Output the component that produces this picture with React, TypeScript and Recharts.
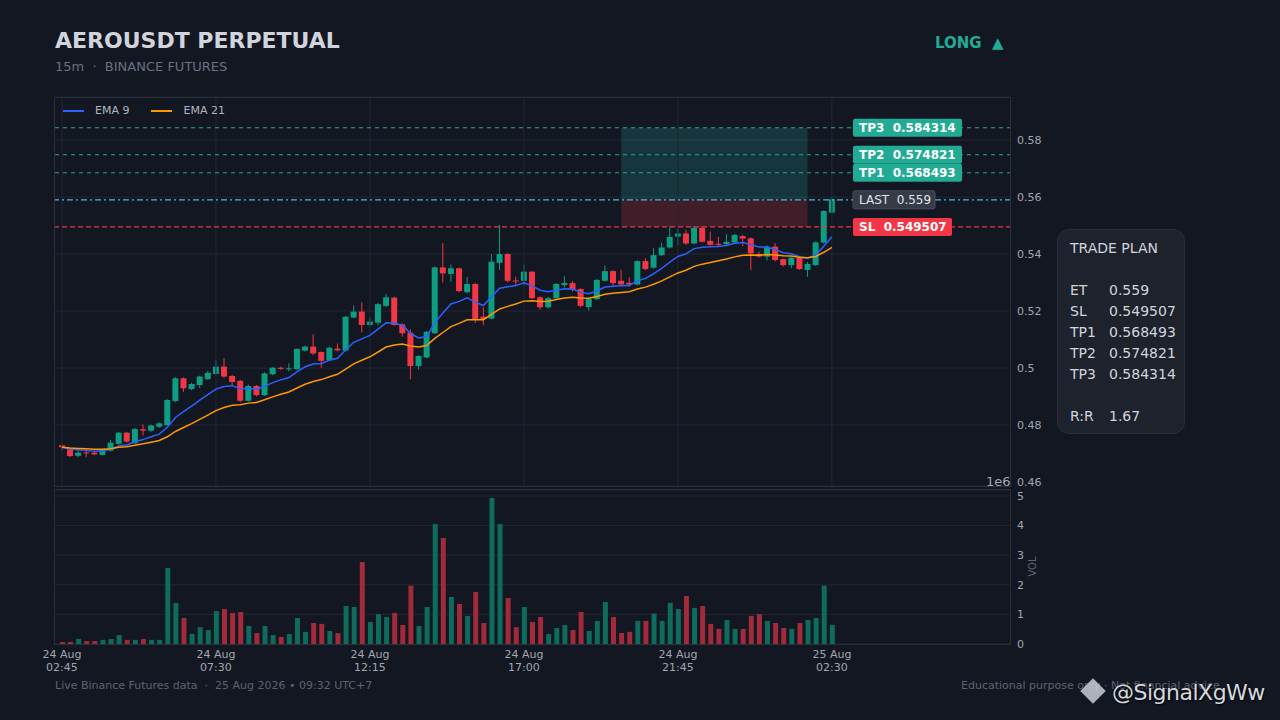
import React from 'react';
import {
  ComposedChart, Bar, Line, XAxis, YAxis, CartesianGrid, ReferenceLine, ReferenceArea, Cell,
} from 'recharts';

// 15m candles, AEROUSDT perp
const opens = [
  0.4729, 0.4715, 0.4692, 0.4704, 0.4703, 0.4695, 0.4710, 0.4734, 0.4773, 0.4736,
  0.4785, 0.4780, 0.4794, 0.4800, 0.4884, 0.4964, 0.4926, 0.4940, 0.4961, 0.4979,
  0.5005, 0.4972, 0.4955, 0.4885, 0.4937, 0.4905, 0.4978, 0.5001, 0.4997, 0.4996,
  0.5061, 0.5075, 0.5056, 0.5028, 0.5068, 0.5061, 0.5177, 0.5198, 0.5151, 0.5159,
  0.5218, 0.5247, 0.5153, 0.5124, 0.5007, 0.5037, 0.5122, 0.5353, 0.5330, 0.5350,
  0.5266, 0.5295, 0.5180, 0.5173, 0.5369, 0.5400, 0.5307, 0.5306, 0.5338, 0.5248,
  0.5213, 0.5245, 0.5291, 0.5298, 0.5277, 0.5214, 0.5242, 0.5306, 0.5340, 0.5306,
  0.5299, 0.5293, 0.5375, 0.5352, 0.5396, 0.5423, 0.5461, 0.5472, 0.5437, 0.5492,
  0.5446, 0.5436, 0.5435, 0.5441, 0.5463, 0.5455, 0.5400, 0.5391, 0.5426, 0.5382,
  0.5361, 0.5387, 0.5344, 0.5361, 0.5440, 0.5545,
];
const closes = [
  0.4722, 0.4691, 0.4703, 0.4702, 0.4697, 0.4715, 0.4738, 0.4773, 0.4742, 0.4786,
  0.4780, 0.4798, 0.4806, 0.4888, 0.4964, 0.4929, 0.4944, 0.4970, 0.4983, 0.5005,
  0.4970, 0.4951, 0.4885, 0.4937, 0.4905, 0.4981, 0.5001, 0.4997, 0.4999, 0.5067,
  0.5075, 0.5051, 0.5025, 0.5071, 0.5062, 0.5180, 0.5198, 0.5151, 0.5163, 0.5224,
  0.5248, 0.5151, 0.5122, 0.5007, 0.5042, 0.5127, 0.5353, 0.5332, 0.5350, 0.5270,
  0.5295, 0.5172, 0.5172, 0.5373, 0.5400, 0.5306, 0.5305, 0.5338, 0.5245, 0.5213,
  0.5245, 0.5295, 0.5298, 0.5274, 0.5218, 0.5242, 0.5309, 0.5340, 0.5298, 0.5293,
  0.5293, 0.5375, 0.5347, 0.5396, 0.5423, 0.5460, 0.5472, 0.5437, 0.5492, 0.5443,
  0.5432, 0.5432, 0.5443, 0.5467, 0.5454, 0.5402, 0.5391, 0.5426, 0.5379, 0.5361,
  0.5387, 0.5347, 0.5365, 0.5441, 0.5551, 0.5592,
];
const highs = [
  0.4731, 0.4718, 0.4712, 0.4715, 0.4706, 0.4717, 0.4748, 0.4776, 0.4776, 0.4789,
  0.4802, 0.4802, 0.4810, 0.4890, 0.4968, 0.4967, 0.4948, 0.4973, 0.4990, 0.5028,
  0.5035, 0.4976, 0.4958, 0.4942, 0.4940, 0.4985, 0.5003, 0.5005, 0.5016, 0.5068,
  0.5079, 0.5119, 0.5058, 0.5074, 0.5086, 0.5182, 0.5219, 0.5230, 0.5176, 0.5228,
  0.5260, 0.5250, 0.5157, 0.5136, 0.5045, 0.5130, 0.5356, 0.5438, 0.5363, 0.5352,
  0.5320, 0.5298, 0.5213, 0.5399, 0.5502, 0.5403, 0.5320, 0.5362, 0.5340, 0.5251,
  0.5249, 0.5298, 0.5322, 0.5305, 0.5280, 0.5246, 0.5312, 0.5360, 0.5343, 0.5345,
  0.5318, 0.5378, 0.5385, 0.5420, 0.5440, 0.5497, 0.5490, 0.5485, 0.5498, 0.5499,
  0.5478, 0.5460, 0.5470, 0.5470, 0.5468, 0.5458, 0.5408, 0.5430, 0.5438, 0.5384,
  0.5390, 0.5390, 0.5372, 0.5444, 0.5553, 0.5600,
];
const lows = [
  0.4710, 0.4688, 0.4687, 0.4687, 0.4694, 0.4693, 0.4707, 0.4731, 0.4738, 0.4734,
  0.4763, 0.4776, 0.4790, 0.4797, 0.4880, 0.4915, 0.4922, 0.4930, 0.4958, 0.4975,
  0.4965, 0.4940, 0.4880, 0.4882, 0.4900, 0.4902, 0.4975, 0.4993, 0.4989, 0.4993,
  0.5058, 0.5045, 0.5001, 0.5025, 0.5058, 0.5058, 0.5174, 0.5125, 0.5148, 0.5150,
  0.5214, 0.5148, 0.5110, 0.4960, 0.4995, 0.5034, 0.5119, 0.5300, 0.5303, 0.5266,
  0.5262, 0.5158, 0.5150, 0.5170, 0.5344, 0.5300, 0.5290, 0.5290, 0.5242, 0.5205,
  0.5208, 0.5242, 0.5283, 0.5268, 0.5213, 0.5202, 0.5238, 0.5303, 0.5290, 0.5288,
  0.5286, 0.5290, 0.5343, 0.5348, 0.5393, 0.5420, 0.5430, 0.5432, 0.5434, 0.5440,
  0.5430, 0.5428, 0.5428, 0.5438, 0.5428, 0.5344, 0.5387, 0.5378, 0.5374, 0.5356,
  0.5350, 0.5344, 0.5320, 0.5358, 0.5437, 0.5542,
];
// volume in millions
const volumes = [
  0.07, 0.07, 0.17, 0.10, 0.10, 0.14, 0.17, 0.30, 0.14, 0.14,
  0.17, 0.14, 0.14, 2.57, 1.39, 0.88, 0.34, 0.57, 0.47, 1.11,
  1.18, 1.05, 1.08, 0.61, 0.37, 0.61, 0.30, 0.24, 0.34, 0.88,
  0.41, 0.71, 0.68, 0.44, 0.37, 1.28, 1.25, 2.77, 0.74, 1.01,
  0.91, 1.05, 0.64, 1.97, 0.61, 1.25, 4.05, 3.58, 1.59, 1.35,
  0.95, 1.76, 0.71, 4.93, 4.05, 1.55, 0.57, 1.25, 0.74, 0.91,
  0.34, 0.54, 0.64, 0.47, 1.08, 0.44, 0.78, 1.42, 0.91, 0.37,
  0.41, 0.78, 0.78, 1.03, 0.78, 1.39, 1.18, 1.62, 1.22, 1.28,
  0.68, 0.51, 0.81, 0.51, 0.51, 0.95, 1.01, 0.78, 0.71, 0.54,
  0.51, 0.71, 0.81, 0.88, 1.97, 0.64,
];

const tickIdx = [0, 19, 38, 57, 76, 95];
const tickDates = ['24 Aug', '24 Aug', '24 Aug', '24 Aug', '24 Aug', '25 Aug'];
const tickTimes = ['02:45', '07:30', '12:15', '17:00', '21:45', '02:30'];
const priceTicks = [0.46, 0.48, 0.5, 0.52, 0.54, 0.56, 0.58];
const volTicks = [0, 1, 2, 3, 4, 5];

const levelNames = ['TP3', 'TP2', 'TP1', 'LAST', 'SL'];
const levelValues = [0.584314, 0.574821, 0.568493, 0.559, 0.549507];
const levelText = ['0.584314', '0.574821', '0.568493', '0.559', '0.549507'];
const zoneStart = 69;
const zoneEnd = 92;

const BG = '#131722';
const GRID = '#232733';
const FRAME = '#2a2e39';
const AXIS_TXT = '#a3a6af';
const UP = '#0d9d82';
const DOWN = '#f23645';
const UP_VOL = '#0f6b5c';
const DOWN_VOL = '#a12b3b';
const TEAL = '#22ab94';

function ema(src: number[], n: number) {
  const k = 2 / (n + 1);
  const out: number[] = [];
  src.forEach((v, i) => out.push(i === 0 ? v : v * k + out[i - 1] * (1 - k)));
  return out;
}

const ema9 = ema(closes, 9);
const ema21 = ema(closes, 21);

const rows = opens.map((o, i) => ({
  i, o, c: closes[i], h: highs[i], l: lows[i], v: volumes[i], ema9: ema9[i], ema21: ema21[i],
}));

const X_DOMAIN: [number, number] = [-0.86, 117.1];

const Candle = (props: any) => {
  const { x, y, width, height, payload } = props;
  if (!payload) return null;
  const { o, c, h, l } = payload;
  const color = c >= o ? UP : DOWN;
  const cx = x + width / 2;
  const range = h - l || 1e-9;
  const py = (v: number) => y + ((h - v) / range) * height;
  const top = py(Math.max(o, c));
  const bot = py(Math.min(o, c));
  return (
    <g>
      <line x1={cx} x2={cx} y1={y} y2={y + height} stroke={color} strokeWidth={1} />
      <rect x={x} y={top} width={width} height={Math.max(1, bot - top)} fill={color} />
    </g>
  );
};

const LevelTag = (props: any) => {
  const { viewBox, text, bg, bold, w, color } = props;
  if (!viewBox) return null;
  const x = viewBox.x + 798;
  const y = viewBox.y;
  return (
    <g>
      <rect x={x} y={y - 9} width={w} height={18} rx={2} fill={bg} stroke={bold ? 'none' : '#4a5060'} />
      <text x={x + 6} y={y + 4.5} fill={color} fontSize={12} fontWeight={bold ? 'bold' : 'normal'}
        style={{ whiteSpace: 'pre' }}>
        {text}
      </text>
    </g>
  );
};

const TimeTick = (props: any) => {
  const { x, y, payload } = props;
  const k = tickIdx.indexOf(payload.value);
  return (
    <text x={x} y={y} textAnchor="middle" fill={AXIS_TXT} fontSize={11}>
      <tspan x={x} dy={6}>{tickDates[k]}</tspan>
      <tspan x={x} dy={13}>{tickTimes[k]}</tspan>
    </text>
  );
};

const frame = (top: number, height: number): React.CSSProperties => ({
  position: 'absolute', left: 54, top, width: 957, height, border: `1px solid ${FRAME}`,
  boxSizing: 'border-box', pointerEvents: 'none',
});

const planLabels = ['ET', 'SL', 'TP1', 'TP2', 'TP3'];
const planValues = ['0.559', '0.549507', '0.568493', '0.574821', '0.584314'];

export default function App() {
  const tagStyle = (k: number) => {
    if (levelNames[k] === 'SL') return { bg: DOWN, bold: true, w: 99, color: '#fff' };
    if (levelNames[k] === 'LAST') return { bg: '#363b48', bold: false, w: 82, color: '#e0e3eb' };
    return { bg: TEAL, bold: true, w: 109, color: '#fff' };
  };
  const lineStyle = (k: number) => {
    if (levelNames[k] === 'SL') return { stroke: DOWN, dash: '5 3' };
    if (levelNames[k] === 'LAST') return { stroke: '#4fb8e6', dash: '6 3 2 3' };
    return { stroke: TEAL, dash: '4 4' };
  };

  return (
    <div style={{
      position: 'absolute', left: 0, top: 0, width: 1280, height: 720, background: BG,
      fontFamily: '"DejaVu Sans", sans-serif', overflow: 'hidden',
    }}>
      <div style={{ position: 'absolute', left: 55, top: 28, fontSize: 22, fontWeight: 'bold', color: '#d1d4dc' }}>
        AEROUSDT PERPETUAL
      </div>
      <div style={{ position: 'absolute', left: 55, top: 59, fontSize: 13, color: '#6b7080', whiteSpace: 'pre' }}>
        15m  ·  BINANCE FUTURES
      </div>
      <div style={{
        position: 'absolute', left: 935, top: 34, fontSize: 15, fontWeight: 'bold', color: TEAL, whiteSpace: 'pre',
      }}>
        LONG  ▲
      </div>

      {/* price panel */}
      <div style={{ position: 'absolute', left: 0, top: 0 }}>
        <ComposedChart width={1280} height={490} data={rows} margin={{ top: 97, right: 229, bottom: 4, left: 55 }}>
          <CartesianGrid vertical={false} stroke={GRID} />
          <XAxis dataKey="i" type="number" domain={X_DOMAIN} hide allowDataOverflow />
          <YAxis orientation="right" width={40} domain={[0.4586, 0.59509]} ticks={priceTicks}
            allowDataOverflow axisLine={false} tickLine={false} tickMargin={0}
            tick={{ fill: AXIS_TXT, fontSize: 11 }} tickFormatter={(v: number) => String(+v.toFixed(2))} />
          {tickIdx.map((t) => (
            <ReferenceLine key={'v' + t} x={t} stroke={GRID} />
          ))}
          <ReferenceArea x1={zoneStart} x2={zoneEnd} y1={levelValues[3]} y2={levelValues[0]}
            fill="#26a69a" fillOpacity={0.22} stroke="none" />
          <ReferenceArea x1={zoneStart} x2={zoneEnd} y1={levelValues[4]} y2={levelValues[3]}
            fill={DOWN} fillOpacity={0.2} stroke="none" />
          <Bar dataKey={(d: any) => [d.l, d.h]} barSize={6} shape={<Candle />} isAnimationActive={false} />
          <Line dataKey="ema9" stroke="#2962ff" strokeWidth={1.5} dot={false} isAnimationActive={false} />
          <Line dataKey="ema21" stroke="#ff9800" strokeWidth={1.5} dot={false} isAnimationActive={false} />
          {levelValues.map((v, k) => {
            const ls = lineStyle(k);
            const ts = tagStyle(k);
            return (
              <ReferenceLine key={levelNames[k]} y={v} stroke={ls.stroke} strokeDasharray={ls.dash} strokeWidth={1.1}
                label={<LevelTag text={`${levelNames[k]}  ${levelText[k]}`} {...ts} />} />
            );
          })}
        </ComposedChart>
      </div>

      {/* EMA legend */}
      <div style={{
        position: 'absolute', left: 63, top: 104, display: 'flex', alignItems: 'center',
        fontSize: 11, color: '#b2b5be',
      }}>
        <span style={{ width: 21, height: 2, background: '#2962ff', display: 'inline-block', marginRight: 11 }} />
        <span style={{ marginRight: 22 }}>EMA 9</span>
        <span style={{ width: 21, height: 2, background: '#ff9800', display: 'inline-block', marginRight: 11 }} />
        <span>EMA 21</span>
      </div>

      {/* volume panel */}
      <div style={{ position: 'absolute', left: 0, top: 490 }}>
        <ComposedChart width={1280} height={190} data={rows} margin={{ top: 0, right: 229, bottom: 6, left: 55 }}>
          <CartesianGrid vertical={false} stroke={GRID} />
          <XAxis dataKey="i" type="number" domain={X_DOMAIN} ticks={tickIdx} height={30}
            axisLine={false} tickLine={false} tick={<TimeTick />} allowDataOverflow interval={0} />
          <YAxis orientation="right" width={40} domain={[0, 5.2]} ticks={volTicks} allowDataOverflow
            axisLine={false} tickLine={false} tickMargin={0} tick={{ fill: AXIS_TXT, fontSize: 11 }} />
          <Bar dataKey="v" barSize={5} isAnimationActive={false}>
            {rows.map((r) => (
              <Cell key={r.i} fill={r.c >= r.o ? UP_VOL : DOWN_VOL} />
            ))}
          </Bar>
        </ComposedChart>
      </div>

      <div style={frame(97, 390)} />
      <div style={frame(489, 156)} />

      <div style={{ position: 'absolute', left: 986, top: 474, fontSize: 13, color: AXIS_TXT }}>1e6</div>
      <div style={{
        position: 'absolute', left: 1022, top: 561, fontSize: 10, color: '#5d6270', transform: 'rotate(-90deg)',
      }}>VOL</div>

      {/* trade plan */}
      <div style={{
        position: 'absolute', left: 1057, top: 229, width: 128, height: 205, boxSizing: 'border-box',
        background: '#1e222d', border: `1px solid ${FRAME}`, borderRadius: 12, padding: '8px 0 0 12px',
        fontSize: 14, lineHeight: '21px', color: '#d1d4dc',
      }}>
        <div>TRADE PLAN</div>
        <div>&nbsp;</div>
        {planLabels.map((lab, k) => (
          <div key={lab} style={{ display: 'flex' }}>
            <span style={{ width: 39 }}>{lab}</span>
            <span>{planValues[k]}</span>
          </div>
        ))}
        <div>&nbsp;</div>
        <div style={{ display: 'flex' }}>
          <span style={{ width: 39 }}>R:R</span>
          <span>1.67</span>
        </div>
      </div>

      {/* footer */}
      <div style={{ position: 'absolute', left: 55, top: 679, fontSize: 11, color: '#5d6270', whiteSpace: 'pre' }}>
        Live Binance Futures data  ·  25 Aug 2026 • 09:32 UTC+7
      </div>
      <div style={{ position: 'absolute', left: 961, top: 679, fontSize: 11, color: '#5d6270' }}>
        Educational purpose only · Not financial advice
      </div>
      <div style={{
        position: 'absolute', left: 1084, top: 682, width: 18, height: 18, background: '#c9ccd3',
        transform: 'rotate(45deg)', opacity: 0.85,
      }} />
      <div style={{
        position: 'absolute', left: 1112, top: 680, fontSize: 22, color: '#d6d8de', letterSpacing: -0.5,
        textShadow: '1px 1px 2px #000',
      }}>
        @SignalXgWw
      </div>
    </div>
  );
}
